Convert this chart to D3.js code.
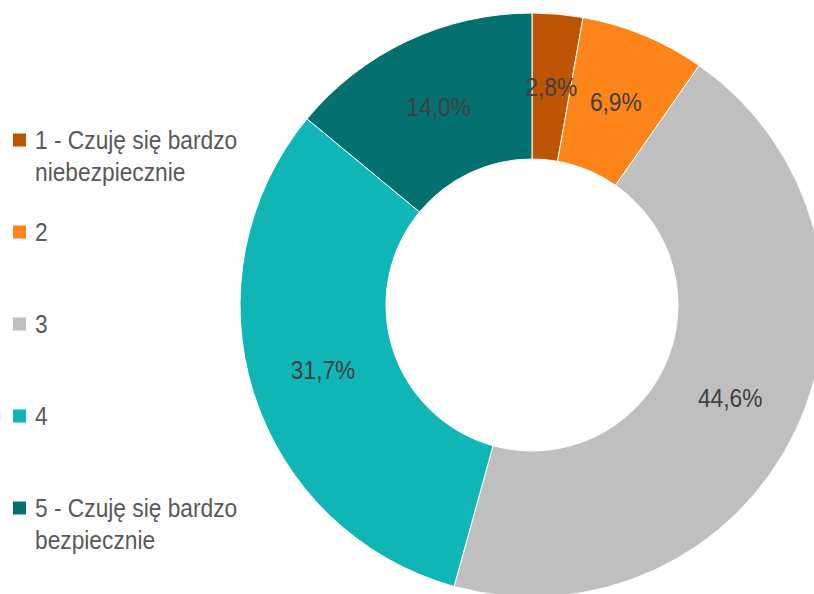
<!DOCTYPE html>
<html>
<head>
<meta charset="utf-8">
<script src="https://cdn.jsdelivr.net/npm/d3@7"></script>
<style>
  html, body { margin: 0; padding: 0; background: #fff; }
  svg { display: block; }
</style>
</head>
<body>
<svg id="chart" width="814" height="594"></svg>
<script>
// Odpowiedzi na skali 1–5
const categories = ["1 - Czuję się bardzo niebezpiecznie", "2", "3", "4", "5 - Czuję się bardzo bezpiecznie"];
const legendLines = [["1 - Czuję się bardzo", "niebezpiecznie"], ["2"], ["3"], ["4"], ["5 - Czuję się bardzo", "bezpiecznie"]];
const values = [2.8, 6.9, 44.6, 31.7, 14.0];
const colors = ["#BE5504", "#FD8419", "#BFBFBF", "#10B5B5", "#057070"];

const svg = d3.select("#chart");
const cx = 532, cy = 305, outerR = 292, innerR = 146;
const fontFamily = "'Liberation Sans', Arial, sans-serif";
const fontSize = 25, squeeze = 0.91;

const pie = d3.pie().value(d => d).sort(null);
const arc = d3.arc().innerRadius(innerR).outerRadius(outerR);
const labelArc = d3.arc().innerRadius((innerR + outerR) / 2).outerRadius((innerR + outerR) / 2);
const color = d3.scaleOrdinal().domain(d3.range(categories.length)).range(colors);

const g = svg.append("g").attr("transform", `translate(${cx},${cy})`);
const arcs = pie(values);

g.selectAll("path.slice")
  .data(arcs)
  .join("path")
  .attr("class", "slice")
  .attr("d", arc)
  .attr("fill", (d, i) => color(i))
  .attr("stroke", "#ffffff")
  .attr("stroke-width", 1);

const fmt = v => v.toFixed(1).replace(".", ",") + "%";

g.selectAll("text.value")
  .data(arcs)
  .join("text")
  .attr("class", "value")
  .attr("transform", d => `translate(${labelArc.centroid(d)}) scale(${squeeze},1)`)
  .attr("text-anchor", "middle")
  .attr("dy", "0.35em")
  .attr("font-family", fontFamily)
  .attr("font-size", fontSize)
  .attr("fill", "#404040")
  .text(d => fmt(d.data));

// Legenda
const legend = svg.append("g");
const itemY = d3.scalePoint().domain(d3.range(categories.length)).range([140, 508]);
const items = legend.selectAll("g.item")
  .data(legendLines)
  .join("g")
  .attr("class", "item")
  .attr("transform", (d, i) => `translate(0,${itemY(i)})`);

items.append("rect")
  .attr("x", 13).attr("y", -6.5)
  .attr("width", 13).attr("height", 13)
  .attr("fill", (d, i) => color(i));

items.append("text")
  .attr("transform", `translate(35,0) scale(${squeeze},1)`)
  .attr("font-family", fontFamily)
  .attr("font-size", fontSize)
  .attr("fill", "#595959")
  .selectAll("tspan")
  .data(d => d)
  .join("tspan")
  .attr("x", 0)
  .attr("y", (d, j) => j * 32)
  .attr("dy", "0.35em")
  .text(d => d);
</script>
</body>
</html>
